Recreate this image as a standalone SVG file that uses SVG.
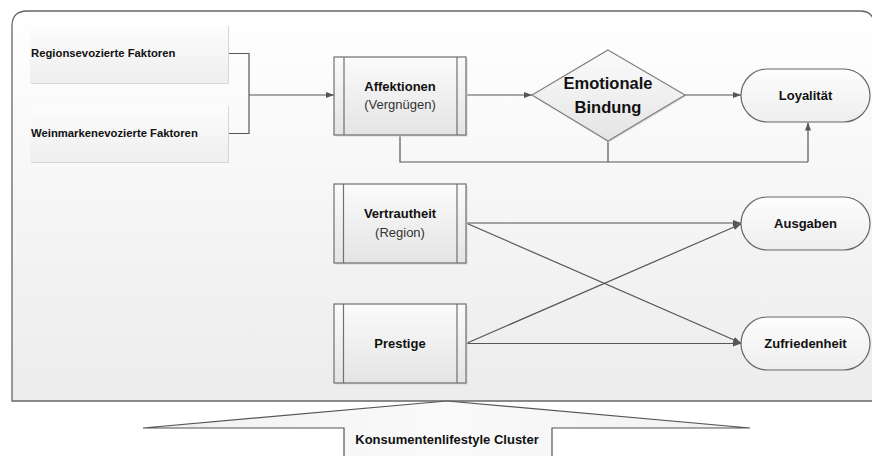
<svg xmlns="http://www.w3.org/2000/svg" width="872" height="456" viewBox="0 0 872 456">
  <defs>
    <linearGradient id="gFrame" x1="0" y1="0" x2="0" y2="1">
      <stop offset="0" stop-color="#ffffff"/>
      <stop offset="1" stop-color="#ececec"/>
    </linearGradient>
    <linearGradient id="gBox" x1="0" y1="0" x2="0" y2="1">
      <stop offset="0" stop-color="#fbfbfb"/>
      <stop offset="1" stop-color="#e4e4e4"/>
    </linearGradient>
    <linearGradient id="gSoft" x1="0" y1="0" x2="0" y2="1">
      <stop offset="0" stop-color="#fdfdfd"/>
      <stop offset="1" stop-color="#eeeeee"/>
    </linearGradient>
    <linearGradient id="gArrow" x1="0" y1="0" x2="1" y2="0">
      <stop offset="0" stop-color="#f0f0f0"/>
      <stop offset="0.5" stop-color="#fafafa"/>
      <stop offset="1" stop-color="#f0f0f0"/>
    </linearGradient>
    <marker id="arr" markerWidth="9" markerHeight="7" refX="8" refY="3" orient="auto" markerUnits="userSpaceOnUse">
      <path d="M0,0 L8,3 L0,6 z" fill="#555"/>
    </marker>
    <style>
      text { font-family: "Liberation Sans", Arial, sans-serif; fill: #111; }
      .b { font-weight: bold; }
      .lbl { font-size: 11.3px; font-weight: bold; }
      .n { font-size: 13px; text-anchor: middle; }
      .sub { font-size: 13px; text-anchor: middle; fill: #333; }
      .big { font-size: 16.5px; font-weight: bold; text-anchor: middle; }
      .proc { fill: url(#gBox); stroke: #707070; stroke-width: 1.2; }
      .inner { stroke: #707070; stroke-width: 1.2; }
      .pill { fill: url(#gSoft); stroke: #666; stroke-width: 1.2; }
      .shadow { fill: #d6d6d6; }
      .con { fill: none; stroke: #555; stroke-width: 1.2; }
      .ca { fill: none; stroke: #555; stroke-width: 1.2; marker-end: url(#arr); }
    </style>
  </defs>

  <rect x="0" y="0" width="872" height="456" fill="#ffffff"/>

  <!-- frame -->
  <g id="frame">
    <path d="M12,401 L12,26 Q12,11 27,11 L860,11 Q874,11 874,25 L874,401 Z" fill="url(#gFrame)" stroke="#666" stroke-width="1.3"/>
  </g>

  <!-- connectors -->
  <g id="connectors">
    <path class="con" d="M228,53.5 H249 V133.5 H228"/>
    <path class="ca" d="M249,95 H334"/>
    <path class="ca" d="M466,95 H532"/>
    <path class="ca" d="M685,95 H741"/>
    <path class="con" d="M400,135 V162 H808"/>
    <path class="con" d="M608,141 V162"/>
    <path class="ca" d="M808,162 V122.5"/>
    <path class="ca" d="M466,223 H741"/>
    <path class="ca" d="M466,223 L741,343"/>
    <path class="ca" d="M466,343.5 H741"/>
    <path class="ca" d="M466,343.5 L741,224"/>
  </g>

  <!-- left factor boxes -->
  <g id="regionsevozierte">
    <rect x="31" y="26" width="198" height="58" class="shadow"/>
    <rect x="30" y="25" width="198" height="58" fill="url(#gSoft)"/>
    <text x="31" y="57" class="lbl">Regionsevozierte Faktoren</text>
  </g>
  <g id="weinmarkenevozierte">
    <rect x="31" y="106" width="198" height="57" class="shadow"/>
    <rect x="30" y="105" width="198" height="57" fill="url(#gSoft)"/>
    <text x="31" y="137" class="lbl">Weinmarkenevozierte Faktoren</text>
  </g>

  <!-- process boxes -->
  <g id="affektionen">
    <rect x="335.5" y="58.5" width="132" height="78" class="shadow"/>
    <rect x="334" y="57" width="132" height="78" class="proc"/>
    <line x1="344" y1="57" x2="344" y2="135" class="inner"/>
    <line x1="457" y1="57" x2="457" y2="135" class="inner"/>
    <text x="400" y="91" class="n b">Affektionen</text>
    <text x="400" y="109" class="sub">(Vergnügen)</text>
  </g>

  <g id="emotionale-bindung">
    <polygon points="609,51.5 686,96.5 609,142.5 533,96.5" fill="#dadada"/>
    <polygon points="608,50 685,95 608,141 532,95" fill="url(#gBox)" stroke="#808080" stroke-width="1.2"/>
    <text x="608" y="89" class="big">Emotionale</text>
    <text x="608" y="113" class="big">Bindung</text>
  </g>

  <g id="loyalitaet">
    <rect x="741" y="69" width="129" height="53" rx="26.5" ry="26.5" class="pill"/>
    <text x="805.5" y="100" class="n b">Loyalität</text>
  </g>

  <g id="vertrautheit">
    <rect x="335.5" y="185.5" width="132" height="79" class="shadow"/>
    <rect x="334" y="184" width="132" height="79" class="proc"/>
    <line x1="343.5" y1="184" x2="343.5" y2="263" class="inner"/>
    <line x1="457" y1="184" x2="457" y2="263" class="inner"/>
    <text x="400" y="218" class="n b">Vertrautheit</text>
    <text x="400" y="237" class="sub">(Region)</text>
  </g>

  <g id="prestige">
    <rect x="335.5" y="305.5" width="132" height="79" class="shadow"/>
    <rect x="334" y="304" width="132" height="79" class="proc"/>
    <line x1="343.5" y1="304" x2="343.5" y2="383" class="inner"/>
    <line x1="457" y1="304" x2="457" y2="383" class="inner"/>
    <text x="400" y="347.5" class="n b">Prestige</text>
  </g>

  <g id="ausgaben">
    <rect x="741" y="197" width="129" height="53" rx="26.5" ry="26.5" class="pill"/>
    <text x="805.5" y="228" class="n b">Ausgaben</text>
  </g>

  <g id="zufriedenheit">
    <rect x="741" y="317" width="129" height="53" rx="26.5" ry="26.5" class="pill"/>
    <text x="805.5" y="348" class="n b">Zufriedenheit</text>
  </g>

  <!-- cluster arrow -->
  <g id="konsumentenlifestyle-cluster">
    <polygon points="447,401 750,428 552,428 552,460 344,460 344,428 143,428" fill="url(#gArrow)" stroke="#555" stroke-width="1.2"/>
    <text x="447" y="444" class="n b">Konsumentenlifestyle Cluster</text>
  </g>
</svg>
